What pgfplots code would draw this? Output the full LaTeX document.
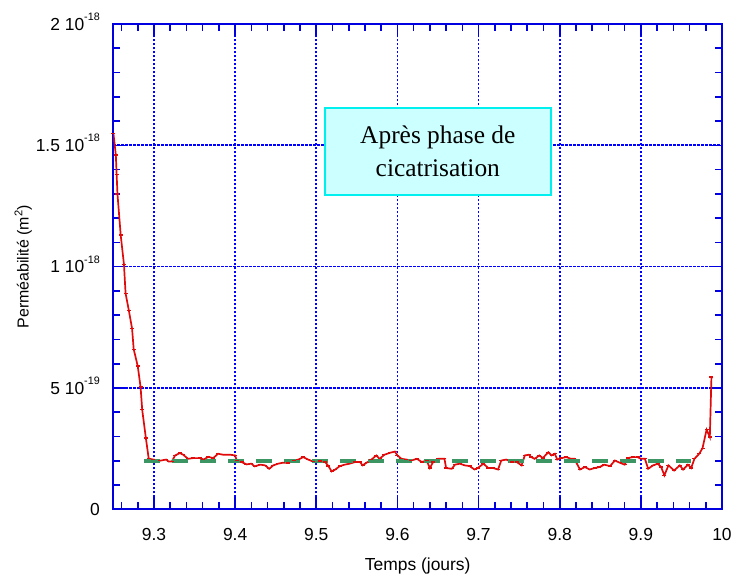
\documentclass[border=0pt]{standalone}
\usepackage{pgfplots}
\pgfplotsset{compat=1.18}
\usepackage{fontspec}
\setmainfont{Liberation Sans}
\newfontfamily\serifbox{Liberation Serif}
\definecolor{axiscol}{RGB}{0,0,225}
\definecolor{gridcol}{RGB}{0,0,255}
\definecolor{redline}{RGB}{225,10,10}
\definecolor{greenline}{RGB}{60,150,100}
\definecolor{boxfill}{RGB}{204,255,255}
\definecolor{boxdraw}{RGB}{0,240,240}
\newcommand\sexp[1]{\raisebox{0.55em}{\fontsize{10.8}{12}\selectfont #1}}
\pgfplotstableread{
x y
9.2500 15.5
9.2530 14.6
9.2540 13.8
9.2550 13.0
9.2590 11.3
9.2630 10.1
9.2650 8.9
9.2690 8.2
9.2730 7.45
9.2750 6.6
9.2800 5.9
9.2835 5.04
9.2855 4.1
9.2900 2.94
9.2935 2.09
9.2990 2.05
9.307 2.0
9.315 2.05
9.318 1.97
9.322 1.97
9.326 2.22
9.332 2.32
9.336 2.25
9.342 2.08
9.348 2.11
9.357 2.11
9.361 2.05
9.367 2.16
9.373 2.11
9.379 2.29
9.385 2.25
9.394 2.25
9.400 2.22
9.402 2.01
9.408 1.95
9.414 1.85
9.420 1.88
9.424 1.77
9.431 1.84
9.437 1.81
9.442 1.67
9.447 1.81
9.453 1.88
9.459 1.92
9.465 1.91
9.472 2.01
9.478 2.05
9.484 2.15
9.490 2.05
9.496 1.97
9.504 1.99
9.511 1.95
9.515 1.78
9.519 1.56
9.523 1.63
9.529 1.78
9.535 1.84
9.541 1.88
9.548 1.95
9.554 1.95
9.557 1.81
9.562 1.92
9.568 2.05
9.574 2.22
9.578 2.08
9.584 2.25
9.591 2.33
9.597 2.38
9.600 2.22
9.605 2.08
9.611 2.05
9.617 2.01
9.624 2.08
9.630 1.95
9.636 2.01
9.640 1.70
9.644 1.95
9.650 2.08
9.658 2.08
9.660 1.70
9.667 1.67
9.671 1.84
9.677 1.88
9.683 1.81
9.689 1.78
9.695 1.64
9.699 1.70
9.706 1.88
9.712 1.70
9.718 1.70
9.724 1.64
9.728 2.01
9.734 2.05
9.741 1.95
9.747 1.95
9.753 1.81
9.757 2.22
9.762 2.25
9.765 2.15
9.769 2.08
9.775 2.22
9.779 2.11
9.786 2.35
9.790 2.22
9.794 2.29
9.797 2.05
9.802 2.11
9.808 2.15
9.814 2.08
9.818 2.08
9.825 1.64
9.831 1.74
9.837 1.64
9.843 1.70
9.849 1.74
9.855 1.84
9.862 1.78
9.868 2.01
9.874 1.92
9.880 1.84
9.884 2.11
9.890 2.15
9.896 2.15
9.900 2.08
9.905 2.08
9.909 1.67
9.915 1.81
9.921 1.88
9.925 1.74
9.929 1.40
9.934 1.81
9.941 1.60
9.948 1.81
9.952 1.64
9.958 1.84
9.962 1.70
9.966 2.08
9.972 2.29
9.976 2.52
9.981 3.28
9.985 2.98
9.987 5.45
}\perm
\begin{document}
\begin{tikzpicture}
\begin{axis}[
  scale only axis, width=608.6bp, height=485.3bp,
  xmin=9.25, xmax=10, ymin=0, ymax=20,
  xtick={9.3,9.4,9.5,9.6,9.7,9.8,9.9,10},
  xticklabels={9.3,9.4,9.5,9.6,9.7,9.8,9.9,10},
  ytick={0,5,10,15,20},
  yticklabels={0,{5 10\sexp{-19}},{1 10\sexp{-18}},{1.5 10\sexp{-18}},{2 10\sexp{-18}}},
  minor xtick={9.26,9.28,9.32,9.34,9.36,9.38,9.42,9.44,9.46,9.48,9.52,9.54,9.56,9.58,9.62,9.64,9.66,9.68,9.72,9.74,9.76,9.78,9.82,9.84,9.86,9.88,9.92,9.94,9.96,9.98},
  minor ytick={1,2,3,4,6,7,8,9,11,12,13,14,16,17,18,19},
  tick align=inside, major tick length=12bp, minor tick length=7bp,
  tick style={axiscol, line width=1.6bp},
  axis line style={axiscol, line width=2.2bp},
  grid=major,
  major grid style={gridcol, line width=1.7bp, dash pattern=on 2.6bp off 1.4bp},
  xticklabel style={font=\fontsize{17.5}{20}\selectfont, anchor=base, inner sep=0pt, yshift=-30.7bp},
  yticklabel style={font=\fontsize{17.5}{20}\selectfont, anchor=base east, inner sep=0pt, xshift=-13.4bp, yshift=-6.2bp},
  xlabel={Temps (jours)},
  ylabel={Perméabilité (m\textsuperscript{2})},
  xlabel style={font=\fontsize{17.5}{20}\selectfont, at={(axis description cs:0.5,-0.1251)}, anchor=base, inner sep=0pt},
  ylabel style={font=\fontsize{16}{19}\selectfont, at={(axis description cs:-0.148,0.5)}, anchor=center, inner sep=0pt},
]
\addplot[color=redline, line width=1.7bp, mark=-, mark size=2bp, mark options={solid, line width=1.3bp}] table[x=x,y=y] {\perm};
\addplot[color=greenline, line width=4bp, dash pattern=on 16bp off 12bp] coordinates {(9.2877,2) (9.9623,2)};
\node[draw=boxdraw, fill=boxfill, line width=2bp, minimum width=225.4bp, minimum height=87.3bp, inner sep=0pt, align=center, font=\serifbox\fontsize{25.5}{32.7}\selectfont] at (axis cs:9.6498,14.755) {Après phase de\\cicatrisation};
\end{axis}
\pgfresetboundingbox
\path[use as bounding box] (-113.4bp,-65.7bp) rectangle (627.6bp,509.3bp);
\end{tikzpicture}
\end{document}
